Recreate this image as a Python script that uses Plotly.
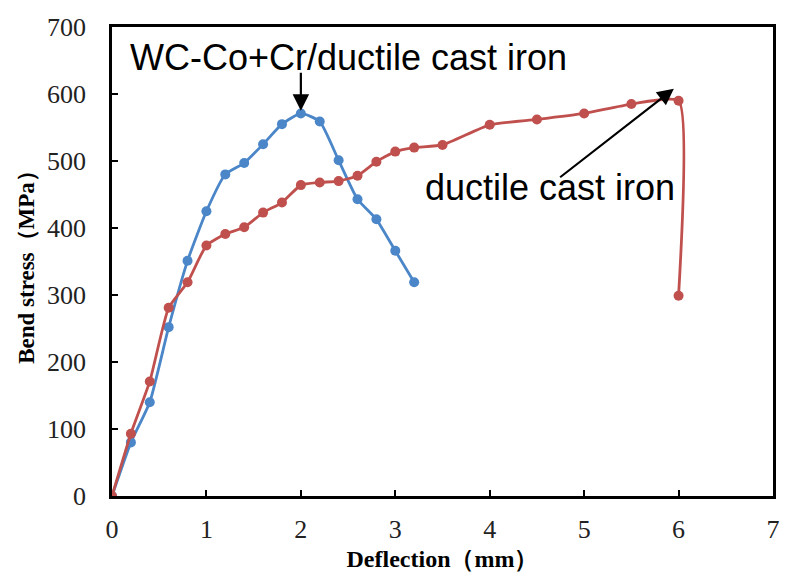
import plotly.graph_objects as go

# WC-Co+Cr / ductile cast iron
x_coat = [0, 0.2, 0.4, 0.6, 0.8, 1.0, 1.2, 1.4, 1.6, 1.8, 2.0, 2.2, 2.4, 2.6, 2.8, 3.0, 3.2]
y_coat = [0, 80, 140, 252, 351, 425, 480, 497, 525, 555, 571, 559, 501, 443, 413, 366, 319]

# ductile cast iron
x_iron = [0, 0.2, 0.4, 0.6, 0.8, 1.0, 1.2, 1.4, 1.6, 1.8, 2.0, 2.2, 2.4, 2.6, 2.8, 3.0, 3.2, 3.5,
          4.0, 4.5, 5.0, 5.5, 6.0, 6.0]
y_iron = [0, 93, 171, 281, 319, 374, 391, 401, 423, 438, 464, 468, 470, 478, 499, 514, 520, 524,
          554, 562, 571, 585, 590, 299]

x_ticks = [0, 1, 2, 3, 4, 5, 6, 7]
y_ticks = [0, 100, 200, 300, 400, 500, 600, 700]

BLUE = "#4A86C8"
RED = "#C0504D"

fig = go.Figure()
fig.add_trace(go.Scatter(x=x_coat, y=y_coat, mode="lines+markers",
                         line=dict(color=BLUE, width=2.8, shape="spline", smoothing=0.5),
                         marker=dict(color=BLUE, size=10), name="WC-Co+Cr/ductile cast iron"))
fig.add_trace(go.Scatter(x=x_iron, y=y_iron, mode="lines+markers",
                         line=dict(color=RED, width=2.8, shape="spline", smoothing=0.5),
                         marker=dict(color=RED, size=10), name="ductile cast iron"))

fig.add_annotation(x=2.0, y=575, ax=2.0, ay=634, xref="x", yref="y", axref="x", ayref="y",
                   showarrow=True, arrowhead=2, arrowsize=1.5, arrowwidth=2.2, arrowcolor="black", text="")
fig.add_annotation(x=5.95, y=608, ax=4.73, ay=474, xref="x", yref="y", axref="x", ayref="y",
                   showarrow=True, arrowhead=2, arrowsize=1.5, arrowwidth=2.2, arrowcolor="black", text="")
fig.add_annotation(x=2.5, y=655, xref="x", yref="y", showarrow=False,
                   text="WC-Co+Cr/ductile cast iron",
                   font=dict(family="Arial, Liberation Sans, sans-serif", size=36, color="black"))
fig.add_annotation(x=3.29, y=460, xref="x", yref="y", showarrow=False, xanchor="left",
                   text="ductile cast iron",
                   font=dict(family="Arial, Liberation Sans, sans-serif", size=36, color="black"))

axis_common = dict(showline=True, linecolor="black", linewidth=2.5, mirror=True,
                   ticks="inside", ticklen=6, tickwidth=1.5, tickcolor="black",
                   showgrid=False, zeroline=False,
                   tickfont=dict(family="Times New Roman, Liberation Serif, serif", size=26, color="#222"))

fig.update_xaxes(range=[0, 7], tickvals=x_ticks, ticklabelstandoff=8,
                 title=dict(text="Deflection（mm）", standoff=8,
                            font=dict(family="Times New Roman, Liberation Serif, serif", size=24,
                                      color="black", weight="bold")),
                 **axis_common)
fig.update_yaxes(range=[0, 700], tickvals=y_ticks, ticklabelstandoff=18,
                 title=dict(text="Bend stress（MPa）", standoff=6,
                            font=dict(family="Times New Roman, Liberation Serif, serif", size=23,
                                      color="black", weight="bold")),
                 **axis_common)

fig.update_layout(width=786, height=577, showlegend=False,
                  margin=dict(l=112, r=6, t=27, b=81),
                  plot_bgcolor="white", paper_bgcolor="white")

fig.write_html("out.html")
